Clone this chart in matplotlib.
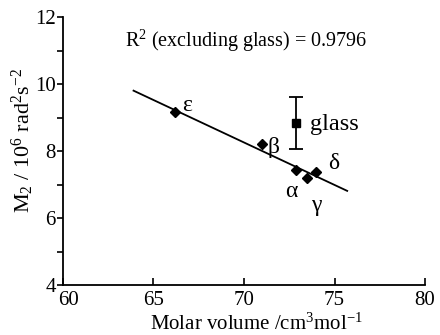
import numpy as np
import matplotlib
matplotlib.use("Agg")
import matplotlib.pyplot as plt
from matplotlib.ticker import MultipleLocator, FuncFormatter
from matplotlib.transforms import offset_copy

plt.rcParams['font.family'] = ['Liberation Serif', 'DejaVu Serif']
plt.rcParams['mathtext.fontset'] = 'custom'
plt.rcParams['mathtext.rm'] = 'Liberation Serif'
plt.rcParams['mathtext.it'] = 'Liberation Serif:italic'

# crystalline phases
phases = ['α', 'β', 'γ', 'δ', 'ε']
molar_vol = [72.9, 71.0, 73.5, 74.0, 66.2]
m2 = [7.43, 8.2, 7.19, 7.37, 9.17]

# glass point with error bar
glass_vol = 72.9
glass_m2 = 8.83
glass_err = 0.77

fit_range = [63.9, 75.7]

fig = plt.figure(figsize=(4.4, 3.35), dpi=100)
ax = fig.add_axes([0.143, 0.149, 0.823, 0.8])

# linear fit excluding glass
slope, icpt = np.polyfit(molar_vol, m2, 1)
xf = np.array(fit_range)
ax.plot(xf, slope * xf + icpt, color='black', lw=1.3)

ax.plot(molar_vol, m2, 'D', color='black', ms=5.5, ls='none')
ax.errorbar(glass_vol, glass_m2, yerr=glass_err, fmt='s', color='black',
            ms=6, capsize=5, elinewidth=1.3, capthick=1.3)

# phase labels
offsets = {'α': (-0.6, -0.65), 'β': (0.3, -0.1), 'γ': (0.2, -0.8),
           'δ': (0.65, 0.25), 'ε': (0.4, 0.2)}
for p, x, y in zip(phases, molar_vol, m2):
    dx, dy = offsets[p]
    ax.text(x + dx, y + dy, p, fontsize=17, ha='left', va='center')
ax.text(glass_vol + 0.75, glass_m2 - 0.05, 'glass', fontsize=17.5, ha='left', va='center')
ax.text(70.1, 11.3, 'R$^2$ (excluding glass) = 0.9796', fontsize=14.5, ha='center', va='center')

ax.set_xlim(60, 80)
ax.set_ylim(4, 12)
ax.xaxis.set_major_locator(MultipleLocator(5))
ax.yaxis.set_major_locator(MultipleLocator(2))
ax.yaxis.set_minor_locator(MultipleLocator(1))
ax.spines['top'].set_visible(False)
ax.spines['right'].set_visible(False)
ax.spines['left'].set_linewidth(1.3)
ax.spines['bottom'].set_linewidth(1.3)
ax.tick_params(axis='x', direction='in', length=5, width=1.2, labelsize=15, pad=4)
ax.tick_params(axis='y', which='major', direction='out', length=4, width=1.2, labelsize=15, pad=1)
ax.tick_params(axis='y', which='minor', direction='out', length=4, width=1.2)

# the "60" sits a little right of its tick so it clears the "4"
xmin = ax.get_xlim()[0]
ax.xaxis.set_major_formatter(FuncFormatter(lambda v, pos: '' if v == xmin else f'{v:g}'))
ax.text(xmin, 0, f'{xmin:g}', fontsize=15, ha='center', va='top',
        transform=offset_copy(ax.get_xaxis_transform(), fig=fig, x=4, y=-4, units='points'))

ax.set_xlabel('Molar volume /cm$^3$mol$^{-1}$', fontsize=15)
ax.set_ylabel('M$_2$ / 10$^6$ rad$^2$s$^{-2}$', fontsize=16)
ax.xaxis.set_label_coords(0.533, -0.108)
ax.yaxis.set_label_coords(-0.075, 0.54)

fig.savefig('out.png', dpi=100)
